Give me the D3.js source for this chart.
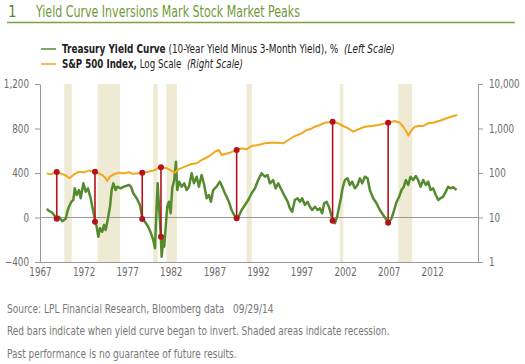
<!DOCTYPE html>
<html>
<head>
<meta charset="utf-8">
<script src="https://cdn.jsdelivr.net/npm/d3@7"></script>
<style>
  html, body { margin: 0; padding: 0; background: #fff; }
  svg { display: block; font-family: "Liberation Sans Narrow", "DejaVu Sans Condensed", "Arial Narrow", sans-serif; }
</style>
</head>
<body>
<div id="chart"></div>
<script>
// Treasury yield curve, 10y minus 3m (basis points, left scale)
const ycYears = [1967.77, 1968.03, 1968.41, 1968.80, 1969.18, 1969.56, 1969.95, 1970.13, 1970.33, 1970.59, 1970.82, 1970.98,
  1971.21, 1971.47, 1971.67, 1971.97, 1972.24, 1972.50, 1972.81, 1973.08, 1973.31, 1973.50, 1973.69, 1973.88,
  1974.14, 1974.34, 1974.53, 1974.80, 1975.03, 1975.22, 1975.41, 1975.68, 1975.86, 1976.25, 1976.63, 1977.21,
  1977.44, 1977.70, 1978.09, 1978.47, 1978.73, 1979.04, 1979.42, 1979.73, 1979.99, 1980.19, 1980.38, 1980.50,
  1980.65, 1980.84, 1980.96, 1981.14, 1981.25, 1981.42, 1981.60, 1981.79, 1981.99, 1982.17, 1982.40, 1982.60,
  1982.75, 1982.97, 1983.25, 1983.55, 1983.82, 1984.09, 1984.40, 1984.66, 1984.97, 1985.23, 1985.54, 1985.84,
  1986.12, 1986.38, 1986.61, 1986.87, 1987.26, 1987.64, 1987.91, 1988.14, 1988.41, 1988.67, 1988.98, 1989.28,
  1989.56, 1989.82, 1990.13, 1990.51, 1990.89, 1991.28, 1991.66, 1992.03, 1992.42, 1992.80, 1993.11, 1993.38,
  1993.75, 1994.03, 1994.33, 1994.72, 1995.10, 1995.41, 1995.67, 1995.93, 1996.24, 1996.55, 1996.82, 1997.08,
  1997.39, 1997.70, 1997.96, 1998.23, 1998.54, 1998.85, 1999.11, 1999.37, 1999.60, 1999.88, 2000.14, 2000.37,
  2000.57, 2000.83, 2001.09, 2001.32, 2001.52, 2001.71, 2001.98, 2002.29, 2002.55, 2002.81, 2003.12, 2003.43,
  2003.70, 2003.96, 2004.27, 2004.58, 2004.84, 2005.22, 2005.61, 2005.99, 2006.37, 2006.76, 2007.02, 2007.33,
  2007.63, 2007.91, 2008.20, 2008.48, 2008.74, 2008.97, 2009.24, 2009.51, 2009.81, 2010.12, 2010.38, 2010.66,
  2010.96, 2011.27, 2011.53, 2011.81, 2012.10, 2012.41, 2012.68, 2012.95, 2013.25, 2013.56, 2013.82, 2014.10,
  2014.40, 2014.79];
const ycValues = [76, 61, 43, 2, 7, -34, -11, 52, 97, 142, 157, 262,
  202, 247, 173, 307, 232, 262, 173, 67, -22, -83, -173, -97,
  -128, -67, -112, -7, 97, 247, 307, 247, 277, 262, 277, 292,
  277, 218, 173, 112, -7, -38, -83, -142, -202, -277, 97, 307,
  97, -142, -352, -202, -262, -83, 97, 142, 38, 262, 337, 502,
  247, 322, 277, 307, 247, 277, 397, 307, 367, 277, 382, 292,
  173, 202, 142, 247, 277, 322, 277, 232, 187, 142, 67, 22,
  -2, 13, 67, 112, 157, 218, 262, 337, 397, 367, 382, 307,
  337, 262, 307, 247, 187, 142, 83, 52, 157, 173, 142, 173,
  112, 142, 97, 67, 97, 67, 83, 38, 128, 142, 97, 38,
  -29, -52, 7, 97, 173, 262, 337, 352, 292, 322, 262, 292,
  352, 307, 367, 352, 247, 173, 128, 67, 22, -22, -47, -7,
  67, 140, 187, 247, 277, 337, 292, 367, 337, 373, 337, 277,
  337, 292, 322, 247, 262, 202, 157, 173, 187, 232, 277, 262,
  272, 247];

// S&P 500 index level (right scale, log)
const spYears = [1967.77, 1968.23, 1968.80, 1969.37, 1969.95, 1970.40, 1970.90, 1971.47, 1972.05, 1972.62, 1973.19, 1973.77,
  1974.15, 1974.54, 1974.72, 1975.03, 1975.49, 1976.06, 1976.63, 1977.21, 1977.60, 1978.09, 1978.73, 1979.42,
  1980.19, 1980.57, 1980.88, 1981.53, 1982.10, 1982.48, 1982.86, 1983.62, 1984.40, 1984.97, 1985.54, 1986.30,
  1987.07, 1987.53, 1987.84, 1988.21, 1988.79, 1989.56, 1990.13, 1990.70, 1991.28, 1992.03, 1992.80, 1993.57,
  1994.33, 1994.90, 1995.48, 1996.24, 1997.01, 1997.59, 1997.96, 1998.54, 1999.11, 1999.68, 2000.57, 2001.21,
  2001.78, 2002.36, 2002.93, 2003.50, 2004.27, 2005.04, 2005.80, 2006.94, 2007.71, 2008.28, 2008.66, 2009.05,
  2009.25, 2009.63, 2010.00, 2010.58, 2010.96, 2011.53, 2012.10, 2012.87, 2013.64, 2014.40, 2014.86];
const spValues = [98, 94, 104, 98, 88, 77, 93, 107, 104, 113, 107, 98,
  90, 76, 66, 83, 94, 102, 98, 104, 96, 98, 101, 107,
  117, 128, 134, 128, 111, 102, 121, 139, 159, 165, 196, 232,
  301, 329, 254, 267, 286, 329, 359, 341, 404, 426, 465, 479,
  479, 465, 552, 678, 779, 925, 959, 1097, 1198, 1349, 1421, 1309,
  1138, 1010, 847, 959, 1097, 1138, 1198, 1349, 1474, 1349, 1097, 847,
  689, 925, 1097, 1150, 1140, 1309, 1349, 1496, 1694, 1910, 2011];

// Recessions (shaded)
const recessionStart = [1969.79, 1973.61, 1980.0, 1981.5, 1990.7, 2001.4, 2008.1];
const recessionEnd = [1970.64, 1976.17, 1980.5, 1982.7, 1991.3, 2001.8, 2009.7];

// Yield curve inversions (red bars)
const inversionYears = [1968.92, 1973.31, 1978.73, 1980.88, 1989.56, 2000.57, 2006.94];
const inversionSp = [105, 107, 101, 134, 329, 1421, 1349];
const inversionYc = [-11, -38, -13, -173, -7, -29, -47];

const xTicks = [1967, 1972, 1977, 1982, 1987, 1992, 1997, 2002, 2007, 2012];
const leftTicks = [-400, 0, 400, 800, 1200];
const rightTicks = [1, 10, 100, 1000, 10000];

const green = '#558b2f';
const orange = '#f0a81c';
const red = '#b5121b';
const grey = '#999';

const W = 525, H = 364;
const svg = d3.select('#chart').append('svg').attr('width', W).attr('height', H);

// squeeze a text horizontally so it spans the given width from its left edge
function fitWidth(sel, width) {
    sel.each(function () {
        const t = d3.select(this);
        const bb = this.getBBox();
        const k = width / bb.width;
        t.attr('transform', `translate(${bb.x},0) scale(${k},1) translate(${-bb.x},0)`);
    });
}

// Title
svg.append('text').attr('x', 8).attr('y', 17).attr('font-size', 15)
    .attr('fill', '#5b8a2a').text('1');
svg.append('text').attr('x', 36).attr('y', 17).attr('font-size', 15).attr('fill', '#6f9a35')
    .attr('textLength', 264).attr('lengthAdjust', 'spacingAndGlyphs')
    .text('Yield Curve Inversions Mark Stock Market Peaks');
svg.append('line').attr('x1', 7).attr('x2', 515).attr('y1', 22.5).attr('y2', 22.5)
    .attr('stroke', '#7f9f45').attr('stroke-width', 1.5);

// Scales
const x = d3.scaleLinear().domain([1967, 2017.25]).range([40, 478]);
const yLeft = d3.scaleLinear().domain([-400, 1200]).range([262, 84]);
const yRight = d3.scaleLog().domain([1, 10000]).range([262, 84]);

// Recession shading
svg.append('g').selectAll('rect').data(recessionStart).enter().append('rect')
    .attr('x', d => x(d))
    .attr('width', (d, i) => x(recessionEnd[i]) - x(d))
    .attr('y', yLeft(1200))
    .attr('height', yLeft(-400) - yLeft(1200))
    .attr('fill', '#efead3');

// Zero line
svg.append('line').attr('x1', x(1967)).attr('x2', x(2017.25))
    .attr('y1', yLeft(0)).attr('y2', yLeft(0)).attr('stroke', grey).attr('stroke-width', 1);

// Axes
function styleAxis(g) {
    g.select('.domain').attr('stroke', grey);
    g.selectAll('.tick line').attr('stroke', grey);
    g.selectAll('.tick text').attr('fill', '#6a6a6a').attr('font-size', 11.5)
        .attr('font-family', '"Liberation Sans Narrow", "DejaVu Sans Condensed", sans-serif');
}
function squeezeTicks(g, k, anchor) {
    g.selectAll('.tick text').each(function () {
        const bb = this.getBBox();
        const ax = anchor === 'end' ? bb.x + bb.width : anchor === 'start' ? bb.x : bb.x + bb.width / 2;
        d3.select(this).attr('transform', `translate(${ax},0) scale(${k},1) translate(${-ax},0)`);
    });
}
svg.append('g').attr('transform', `translate(40,0)`)
    .call(d3.axisLeft(yLeft).tickValues(leftTicks).tickSize(5).tickSizeOuter(0).tickPadding(6).tickFormat(d3.format(',')))
    .call(styleAxis).call(g => squeezeTicks(g, 0.85, 'end'));
svg.append('g').attr('transform', `translate(478,0)`)
    .call(d3.axisRight(yRight).tickValues(rightTicks).tickSize(5).tickSizeOuter(0).tickPadding(6).tickFormat(d3.format(',')))
    .call(styleAxis).call(g => squeezeTicks(g, 0.85, 'start'));
svg.append('g').attr('transform', `translate(0,262)`)
    .call(d3.axisBottom(x).tickValues(xTicks).tickSize(0).tickSizeOuter(0).tickPadding(6).tickFormat(d3.format('d')))
    .call(styleAxis).call(g => squeezeTicks(g, 0.85, 'middle'));

// Series lines
const ycLine = d3.line().x((d, i) => x(ycYears[i])).y(d => yLeft(d));
svg.append('path').datum(ycValues).attr('fill', 'none').attr('stroke', green)
    .attr('stroke-width', 2.5).attr('stroke-linejoin', 'round').attr('d', ycLine);

const spLine = d3.line().x((d, i) => x(spYears[i])).y(d => yRight(d));
svg.append('path').datum(spValues).attr('fill', 'none').attr('stroke', orange)
    .attr('stroke-width', 2).attr('stroke-linejoin', 'round').attr('d', spLine);

// Inversion markers
const inv = svg.append('g');
inv.selectAll('line').data(inversionYears).enter().append('line')
    .attr('x1', d => x(d)).attr('x2', d => x(d))
    .attr('y1', (d, i) => yRight(inversionSp[i]))
    .attr('y2', (d, i) => yLeft(inversionYc[i]))
    .attr('stroke', red).attr('stroke-width', 1.6);
inv.selectAll('circle.top').data(inversionYears).enter().append('circle').attr('class', 'top')
    .attr('cx', d => x(d)).attr('cy', (d, i) => yRight(inversionSp[i])).attr('r', 3).attr('fill', red);
inv.selectAll('circle.bot').data(inversionYears).enter().append('circle').attr('class', 'bot')
    .attr('cx', d => x(d)).attr('cy', (d, i) => yLeft(inversionYc[i])).attr('r', 3).attr('fill', red);

// Legend
const legend = svg.append('g').attr('font-size', 12).attr('fill', '#222');
legend.append('line').attr('x1', 41).attr('x2', 56).attr('y1', 49).attr('y2', 49).attr('stroke', green).attr('stroke-width', 1.5);
legend.append('line').attr('x1', 41).attr('x2', 56).attr('y1', 64).attr('y2', 64).attr('stroke', orange).attr('stroke-width', 1.5);
const l1 = legend.append('text').attr('x', 62).attr('y', 53.5).style('white-space', 'pre');
l1.append('tspan').attr('font-weight', 'bold').text('Treasury Yield Curve');
l1.append('tspan').text(' (10-Year Yield Minus 3-Month Yield), %  ');
l1.append('tspan').attr('font-style', 'italic').text('(Left Scale)');
const l2 = legend.append('text').attr('x', 62).attr('y', 68.5).style('white-space', 'pre');
l2.append('tspan').attr('font-weight', 'bold').text('S&P 500 Index,');
l2.append('tspan').text(' Log Scale  ');
l2.append('tspan').attr('font-style', 'italic').text('(Right Scale)');
fitWidth(l1, 333);
fitWidth(l2, 181);

// Footer notes
const notes = ['Source: LPL Financial Research, Bloomberg data   09/29/14',
    'Red bars indicate when yield curve began to invert. Shaded areas indicate recession.',
    'Past performance is no guarantee of future results.'];
const noteY = [313, 335, 358];
const noteW = [267, 383, 230];
svg.append('g').selectAll('text').data(notes).enter().append('text')
    .attr('x', 7).attr('y', (d, i) => noteY[i]).attr('font-size', 12).attr('fill', '#777')
    .style('white-space', 'pre').text(d => d)
    .each(function (d, i) { fitWidth(d3.select(this), noteW[i]); });
</script>
</body>
</html>
